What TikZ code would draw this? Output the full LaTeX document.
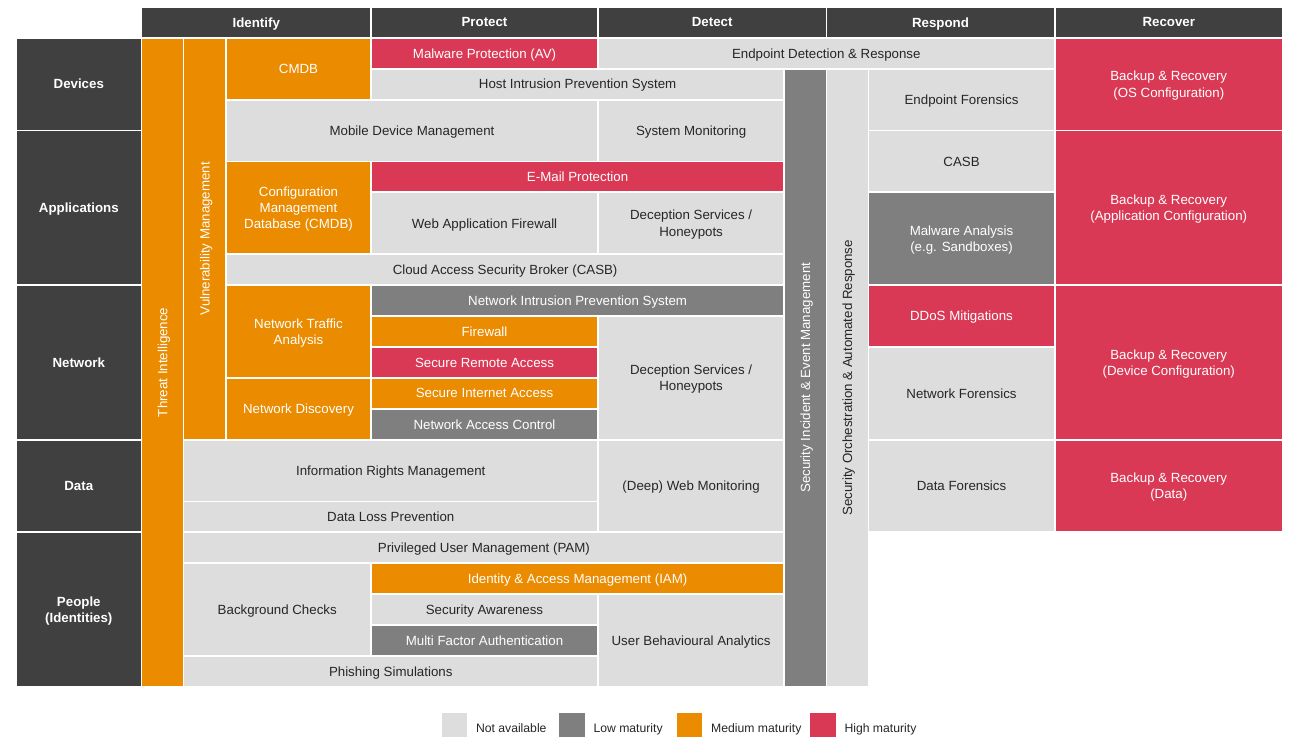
\documentclass[tikz,border=0pt]{standalone}
\usepackage{fontspec}
\setmainfont{Liberation Sans}

\definecolor{hdr}{HTML}{404040}
\definecolor{na}{HTML}{DDDDDD}
\definecolor{low}{HTML}{7F7F7F}
\definecolor{med}{HTML}{EA8B00}
\definecolor{high}{HTML}{DA3955}
\definecolor{ink}{HTML}{262626}

% column grid lines (x) and row grid (y)
\def\colA{16.1}
\def\colB{141.5}
\def\colC{183.5}
\def\colD{226.0}
\def\colE{371.0}
\def\colF{598.0}
\def\colG{784.2}
\def\colH{826.4}
\def\colI{868.4}
\def\colJ{1054.6}
\def\colK{1282.9}
\def\ytop{37.8}
\def\rowh{30.91}
\def\halfgap{0.9}

% #1 name, #2 style, #3 left line, #4 right line, #5 first row, #6 last row, #7 text
\newcommand\gridcell[7]{%
  \pgfmathsetmacro\gxa{#3+\halfgap}%
  \pgfmathsetmacro\gxb{#4-\halfgap}%
  \pgfmathsetmacro\gya{\ytop+(#5-1)*\rowh+\halfgap}%
  \pgfmathsetmacro\gyb{\ytop+(#6)*\rowh-\halfgap}%
  \pgfmathsetmacro\gw{\gxb-\gxa}%
  \pgfmathsetmacro\gh{\gyb-\gya}%
  \node[#2, minimum width=\gw pt, minimum height=\gh pt]
    (#1) at ({(\gxa+\gxb)/2},{(\gya+\gyb)/2}) {#7};%
}
% same, with the text running upwards
\newcommand\vgridcell[7]{%
  \pgfmathsetmacro\gxa{#3+\halfgap}%
  \pgfmathsetmacro\gxb{#4-\halfgap}%
  \pgfmathsetmacro\gya{\ytop+(#5-1)*\rowh+\halfgap}%
  \pgfmathsetmacro\gyb{\ytop+(#6)*\rowh-\halfgap}%
  \pgfmathsetmacro\gw{\gxb-\gxa}%
  \pgfmathsetmacro\gh{\gyb-\gya}%
  \node[#2, rotate=90, minimum width=\gh pt, minimum height=\gw pt]
    (#1) at ({(\gxa+\gxb)/2},{(\gya+\gyb)/2}) {#7};%
}

\begin{document}
\begin{tikzpicture}[x=1pt,y=-1pt,
  box/.style={inner sep=0pt, outer sep=0pt, align=center, text depth=0pt,
    font=\fontsize{13.3}{16.2}\selectfont},
  hdrbox/.style={box, fill=hdr, text=white,
    font=\fontsize{13.3}{16.2}\selectfont\bfseries},
  nabox/.style={box, fill=na, text=ink},
  lowbox/.style={box, fill=low, text=white},
  medbox/.style={box, fill=med, text=white},
  highbox/.style={box, fill=high, text=white},
  legbox/.style={inner sep=0pt, outer sep=0pt, minimum width=25.6pt, minimum height=25.6pt},
  legtext/.style={anchor=west, inner sep=0pt, text depth=0pt, text=ink,
    font=\fontsize{12.2}{14}\selectfont}]

\useasboundingbox (0,0) rectangle (1289,736);
\begin{scope}
\clip (0,0) rectangle (1289,736);

% column headers
\gridcell{hIdentify}{hdrbox}{\colB}{\colE}{0}{0}{Identify}
\gridcell{hProtect}{hdrbox}{\colE}{\colF}{0}{0}{Protect}
\gridcell{hDetect}{hdrbox}{\colF}{\colH}{0}{0}{Detect}
\gridcell{hRespond}{hdrbox}{\colH}{\colJ}{0}{0}{Respond}
\gridcell{hRecover}{hdrbox}{\colJ}{\colK}{0}{0}{Recover}

% row headers
\gridcell{rDevices}{hdrbox}{\colA}{\colB}{1}{3}{Devices}
\gridcell{rApps}{hdrbox}{\colA}{\colB}{4}{8}{Applications}
\gridcell{rNetwork}{hdrbox}{\colA}{\colB}{9}{13}{Network}
\gridcell{rData}{hdrbox}{\colA}{\colB}{14}{16}{Data}
\gridcell{rPeople}{hdrbox}{\colA}{\colB}{17}{21}{People\\(Identities)}

% long vertical bands
\vgridcell{ti}{medbox}{\colB}{\colC}{1}{21}{Threat Intelligence}
\vgridcell{vm}{medbox}{\colC}{\colD}{1}{13}{Vulnerability Management}
\vgridcell{siem}{lowbox}{\colG}{\colH}{2}{21}{Security Incident \& Event Management}
\vgridcell{soar}{nabox}{\colH}{\colI}{2}{21}{Security Orchestration \& Automated Response}

% identify
\gridcell{cmdb}{medbox}{\colD}{\colE}{1}{2}{CMDB}
\gridcell{mdm}{nabox}{\colD}{\colF}{3}{4}{Mobile Device Management}
\gridcell{cmdbfull}{medbox}{\colD}{\colE}{5}{7}{Configuration\\Management\\Database (CMDB)}
\gridcell{casbbroker}{nabox}{\colD}{\colG}{8}{8}{Cloud Access Security Broker (CASB)}
\gridcell{nta}{medbox}{\colD}{\colE}{9}{11}{Network Traffic\\Analysis}
\gridcell{netdisc}{medbox}{\colD}{\colE}{12}{13}{Network Discovery}
\gridcell{irm}{nabox}{\colC}{\colF}{14}{15}{Information Rights Management}
\gridcell{dlp}{nabox}{\colC}{\colF}{16}{16}{Data Loss Prevention}
\gridcell{pam}{nabox}{\colC}{\colG}{17}{17}{Privileged User Management (PAM)}
\gridcell{bgcheck}{nabox}{\colC}{\colE}{18}{20}{Background Checks}
\gridcell{phishing}{nabox}{\colC}{\colF}{21}{21}{Phishing Simulations}

% protect
\gridcell{av}{highbox}{\colE}{\colF}{1}{1}{Malware Protection (AV)}
\gridcell{hips}{nabox}{\colE}{\colG}{2}{2}{Host Intrusion Prevention System}
\gridcell{email}{highbox}{\colE}{\colG}{5}{5}{E-Mail Protection}
\gridcell{waf}{nabox}{\colE}{\colF}{6}{7}{Web Application Firewall}
\gridcell{nips}{lowbox}{\colE}{\colG}{9}{9}{Network Intrusion Prevention System}
\gridcell{firewall}{medbox}{\colE}{\colF}{10}{10}{Firewall}
\gridcell{sra}{highbox}{\colE}{\colF}{11}{11}{Secure Remote Access}
\gridcell{sia}{medbox}{\colE}{\colF}{12}{12}{Secure Internet Access}
\gridcell{nac}{lowbox}{\colE}{\colF}{13}{13}{Network Access Control}
\gridcell{iam}{medbox}{\colE}{\colG}{18}{18}{Identity \& Access Management (IAM)}
\gridcell{awareness}{nabox}{\colE}{\colF}{19}{19}{Security Awareness}
\gridcell{mfa}{lowbox}{\colE}{\colF}{20}{20}{Multi Factor Authentication}

% detect
\gridcell{edr}{nabox}{\colF}{\colJ}{1}{1}{Endpoint Detection \& Response}
\gridcell{sysmon}{nabox}{\colF}{\colG}{3}{4}{System Monitoring}
\gridcell{deceptionA}{nabox}{\colF}{\colG}{6}{7}{Deception Services /\\Honeypots}
\gridcell{deceptionB}{nabox}{\colF}{\colG}{10}{13}{Deception Services /\\Honeypots}
\gridcell{webmon}{nabox}{\colF}{\colG}{14}{16}{(Deep) Web Monitoring}
\gridcell{uba}{nabox}{\colF}{\colG}{19}{21}{User Behavioural Analytics}

% respond
\gridcell{epforensics}{nabox}{\colI}{\colJ}{2}{3}{Endpoint Forensics}
\gridcell{casb}{nabox}{\colI}{\colJ}{4}{5}{CASB}
\gridcell{sandbox}{lowbox}{\colI}{\colJ}{6}{8}{Malware Analysis\\(e.g. Sandboxes)}
\gridcell{ddos}{highbox}{\colI}{\colJ}{9}{10}{DDoS Mitigations}
\gridcell{netforensics}{nabox}{\colI}{\colJ}{11}{13}{Network Forensics}
\gridcell{dataforensics}{nabox}{\colI}{\colJ}{14}{16}{Data Forensics}

% recover
\gridcell{brOS}{highbox}{\colJ}{\colK}{1}{3}{Backup \& Recovery\\(OS Configuration)}
\gridcell{brApp}{highbox}{\colJ}{\colK}{4}{8}{Backup \& Recovery\\(Application Configuration)}
\gridcell{brDev}{highbox}{\colJ}{\colK}{9}{13}{Backup \& Recovery\\(Device Configuration)}
\gridcell{brData}{highbox}{\colJ}{\colK}{14}{16}{Backup \& Recovery\\(Data)}

% legend
\node[legbox, fill=na]   (legNA)   at (454.5,726.1) {};
\node[legbox, fill=low]  (legLow)  at (572.2,726.1) {};
\node[legbox, fill=med]  (legMed)  at (689.5,726.1) {};
\node[legbox, fill=high] (legHigh) at (822.8,726.1) {};
\node[legtext] (legNAtext)   at (475.8,727.8) {Not available};
\node[legtext] (legLowtext)  at (593.3,727.8) {Low maturity};
\node[legtext] (legMedtext)  at (711.0,727.8) {Medium maturity};
\node[legtext] (legHightext) at (844.3,727.8) {High maturity};
\end{scope}
\end{tikzpicture}
\end{document}
